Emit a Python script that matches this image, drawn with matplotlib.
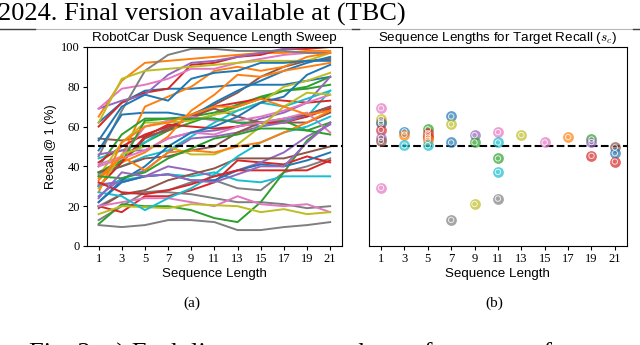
import numpy as np
from matplotlib import pyplot as plt

plt.rcParams["mathtext.fontset"] = "cm"

seq_lengths = [1, 3, 5, 7, 9, 11, 13, 15, 17, 19, 21]
target_recall = 50

# recall @ 1 (%) for each run, colours follow the default tab10 cycle
recall_curves = [
    [62, 72, 78, 79, 79, 80, 81, 81, 81, 83, 85],
    [65, 83, 92, 93, 94, 95, 96, 97, 97, 98, 98],
    [37, 43, 52, 58, 62, 66, 70, 74, 78, 80, 85],
    [60, 72, 77, 79, 91, 92, 95, 96, 99, 99, 100],
    [69, 73, 76, 86, 92, 93, 95, 97, 99, 100, 100],
    [54, 53, 55, 58, 66, 71, 77, 85, 90, 93, 94],
    [69, 79, 81, 84, 89, 89, 92, 94, 96, 97, 97],
    [45, 68, 88, 96, 99, 99, 98, 98, 98, 97, 97],
    [62, 84, 88, 89, 90, 91, 92, 93, 93, 93, 97],
    [44, 48, 52, 60, 64, 64, 62, 60, 63, 65, 78],
    [48, 66, 67, 67, 65, 72, 78, 83, 88, 92, 95],
    [33, 45, 70, 75, 80, 88, 90, 88, 90, 95, 97],
    [40, 56, 64, 64, 65, 67, 71, 75, 78, 79, 81],
    [42, 50, 56, 60, 64, 70, 72, 74, 73, 72, 73],
    [46, 48, 48, 54, 57, 58, 60, 64, 67, 72, 85],
    [30, 42, 54, 59, 65, 69, 65, 62, 62, 62, 67],
    [41, 45, 60, 63, 65, 63, 63, 65, 68, 72, 76],
    [20, 26, 27, 28, 32, 33, 29, 28, 37, 40, 44],
    [35, 52, 62, 62, 63, 66, 68, 72, 80, 83, 87],
    [36, 40, 45, 48, 55, 62, 68, 72, 70, 74, 78],
    [53, 70, 76, 73, 84, 87, 88, 92, 92, 93, 93],
    [35, 42, 47, 55, 68, 76, 86, 85, 88, 90, 92],
    [37, 42, 63, 64, 64, 64, 62, 62, 63, 58, 62],
    [30, 42, 55, 61, 60, 59, 60, 62, 62, 65, 69],
    [25, 34, 38, 47, 54, 55, 57, 60, 62, 66, 70],
    [37, 40, 44, 45, 48, 50, 57, 62, 64, 66, 70],
    [40, 44, 48, 54, 57, 56, 60, 62, 64, 67, 57],
    [13, 20, 27, 27, 26, 24, 22, 22, 21, 19, 20],
    [29, 46, 50, 50, 46, 46, 51, 60, 70, 77, 76],
    [30, 33, 35, 36, 35, 37, 33, 32, 35, 35, 35],
    [22, 33, 40, 50, 57, 60, 65, 72, 75, 86, 91],
    [27, 52, 60, 62, 66, 70, 70, 74, 70, 66, 68],
    [11, 21, 20, 20, 18, 14, 12, 22, 37, 53, 62],
    [20, 17, 25, 25, 28, 32, 43, 42, 41, 45, 42],
    [31, 32, 35, 40, 38, 35, 38, 42, 47, 55, 61],
    [19, 26, 28, 33, 36, 39, 44, 44, 44, 47, 50],
    [20, 22, 24, 24, 22, 20, 25, 21, 20, 21, 17],
    [10.5, 9.5, 10.5, 13, 13, 12, 8, 8, 9.5, 10.5, 12],
    [16, 20, 19.5, 19, 21, 20.5, 20, 17, 18.5, 16, 17],
    [27, 25, 18, 24, 29, 36, 45, 52, 57, 60, 65],
    [22, 32, 35, 36, 33, 33, 38, 41, 40, 43, 47],
    [34, 45, 38, 47, 48, 47, 50, 52, 57, 62, 68],
    [35, 34, 37, 44, 49, 54, 56, 59, 59, 58, 56],
    [32, 27, 26, 28, 31, 35, 38, 38, 38, 38, 43],
    [24, 37, 35, 36, 33, 32, 36, 40, 40, 52, 62],
]

# chosen sequence length per run and its recall
sc_len = [1, 1, 1, 1, 1, 1, 1, 1,
          3, 3, 3,
          5, 5, 5, 5, 5, 5,
          7, 7, 7, 7,
          9, 9, 9,
          11, 11, 11, 11, 11,
          13, 15, 17,
          19, 19, 19,
          21, 21, 21]
sc_recall = [69.2, 63.8, 62.5, 61.6, 58.3, 54.4, 52.8, 29.2,
             57.5, 55.9, 50.5,
             58.6, 56.6, 55.5, 54.6, 53.3, 50.6,
             65.1, 61.1, 52.0, 13.1,
             55.7, 52.0, 21.1,
             57.2, 52.0, 44.0, 37.2, 23.8,
             55.7, 52.0, 54.7,
             53.5, 52.2, 45.3,
             49.5, 46.6, 42.4]
sc_colour = ["pink", "olive", "orange", "blue", "red", "purple", "brown", "pink",
             "blue", "orange", "cyan",
             "green", "red", "orange", "red", "orange", "cyan",
             "blue", "olive", "blue", "gray",
             "purple", "green", "olive",
             "pink", "cyan", "green", "cyan", "gray",
             "olive", "pink", "orange",
             "green", "purple", "red",
             "brown", "blue", "red"]

serif = "Liberation Serif"
sans = "Liberation Sans"

fig = plt.figure(figsize=(6.4, 3.45), dpi=100)
ax1 = fig.add_axes([0.136, 0.287, 0.398, 0.577])
ax2 = fig.add_axes([0.577, 0.287, 0.402, 0.577])

for curve in recall_curves:
    ax1.plot(seq_lengths, curve, lw=1.4)
ax1.axhline(target_recall, color="k", ls="--", lw=1.5)
ax1.set_ylim(0, 100)
ax1.set_title("RobotCar Dusk Sequence Length Sweep", fontsize=9.6, family=sans, pad=4)
ax1.set_ylabel("Recall @ 1 (%)", fontsize=9, family=sans, labelpad=3)

for x, y, c in zip(sc_len, sc_recall, sc_colour):
    ax2.scatter(x, y, s=60, color="tab:" + c, alpha=0.7, zorder=3, lw=0)
    ax2.scatter(x, y, s=15, facecolors="none", edgecolors="white", lw=0.7, alpha=0.8, zorder=4)
ax2.axhline(target_recall, color="k", ls="--", lw=1.5, zorder=2)
ax2.set_ylim(0, 100)
ax2.set_yticks([])
ax2.set_title(r"Sequence Lengths for Target Recall ($s_c$)", fontsize=9.6, family=sans, pad=4)

for ax in (ax1, ax2):
    ax.set_xlim(0, 22)
    ax.set_xticks(seq_lengths)
    ax.set_xlabel("Sequence Length", fontsize=9.6, family=sans, labelpad=2)
    for lab in ax.get_xticklabels() + ax.get_yticklabels():
        lab.set_family(serif)
        lab.set_fontsize(9)
    ax.tick_params(length=3, pad=2)

fig.text(0.30, 0.122, "(a)", fontsize=11, family=serif, ha="center", va="center")
fig.text(0.772, 0.122, "(b)", fontsize=11, family=serif, ha="center", va="center")

# page header and caption cut by the crop
fig.text(-0.003, 0.94, "2024. Final version available at (TBC)", fontsize=19, family=serif,
         ha="left", va="baseline")
fig.add_artist(plt.Line2D([0, 1], [0.916, 0.916], color="#b8b8b8", lw=0.8, transform=fig.transFigure))
for x0, x1 in [(0.0, 0.055), (0.55, 0.561), (0.989, 1.0)]:
    fig.add_artist(plt.Line2D([x0, x1], [0.916, 0.916], color="#404040", lw=1.0, transform=fig.transFigure))
fig.text(0.045, -0.045, "Fig. 2: a) Each line represents the performance of a sequence",
         fontsize=19, family=serif, ha="left", va="baseline")

fig.savefig("out.png", dpi=100)
